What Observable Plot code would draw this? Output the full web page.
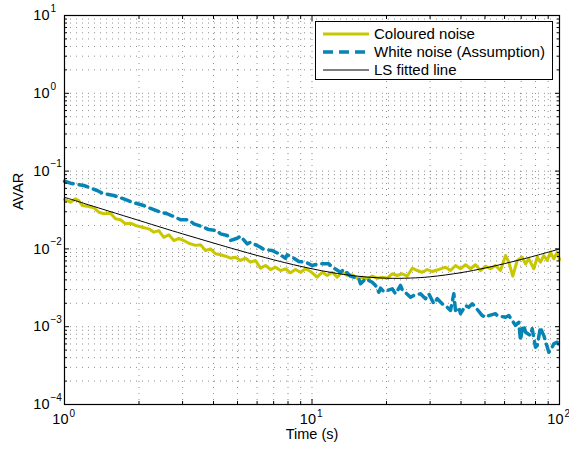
<!DOCTYPE html>
<html><head><meta charset="utf-8">
<script src="https://cdn.jsdelivr.net/npm/d3@7"></script>
<script src="https://cdn.jsdelivr.net/npm/@observablehq/plot@0.6"></script>
<style>body{margin:0;background:#fff;} #chart{width:569px;height:454px;}</style>
</head><body><div id="chart"></div>
<script>
const colouredT = [1, 1.057, 1.108, 1.142, 1.179, 1.254, 1.313, 1.376, 1.442, 1.534, 1.607, 1.684, 1.764, 1.848, 1.936, 2.061, 2.191, 2.296, 2.404, 2.519, 2.639, 2.764, 2.896, 3.034, 3.178, 3.382, 3.544, 3.713, 3.890, 4.075, 4.269, 4.472, 4.685, 4.909, 5.142, 5.387, 5.644, 5.912, 6.194, 6.489, 6.798, 7.121, 7.461, 7.816, 8.188, 8.577, 8.985, 9.413, 9.861, 10.49, 10.99, 11.52, 12.06, 12.64, 13.24, 13.88, 14.54, 15.23, 15.95, 16.71, 17.51, 18.34, 19.21, 20.13, 21.09, 22.09, 23.14, 24.24, 25.40, 26.61, 27.88, 29.20, 30.59, 32.53, 34.63, 36.28, 38.00, 39.81, 41.71, 43.70, 45.78, 47.96, 50.23, 52.63, 55.13, 57.76, 60.51, 62.40, 64.76, 67.46, 70.67, 72.87, 75.16, 78.74, 81.27, 83.80, 86.42, 89.19, 91.95, 94.84, 97.88, 100];
const colouredV = [0.0432, 0.0398, 0.0441, 0.0419, 0.0361, 0.0351, 0.0338, 0.0296, 0.0283, 0.0288, 0.0244, 0.0237, 0.0210, 0.0214, 0.0200, 0.0190, 0.0181, 0.0164, 0.0172, 0.0141, 0.0152, 0.0128, 0.0137, 0.0128, 0.0118, 0.0111, 0.0113, 0.00953, 0.0100, 0.00865, 0.00840, 0.00805, 0.00759, 0.00782, 0.00710, 0.00759, 0.00675, 0.00710, 0.00565, 0.00612, 0.00543, 0.00582, 0.00527, 0.00555, 0.00493, 0.00543, 0.00501, 0.00555, 0.00513, 0.00433, 0.00501, 0.00455, 0.00501, 0.00433, 0.00501, 0.00455, 0.00465, 0.00420, 0.00433, 0.00413, 0.00446, 0.00420, 0.00433, 0.00420, 0.00479, 0.00455, 0.00479, 0.00446, 0.00565, 0.00527, 0.00501, 0.00543, 0.00513, 0.00543, 0.00582, 0.00527, 0.00612, 0.00555, 0.00625, 0.00555, 0.00625, 0.00527, 0.00600, 0.00555, 0.00612, 0.00527, 0.00822, 0.00675, 0.00446, 0.00710, 0.00782, 0.00643, 0.00746, 0.00555, 0.00782, 0.00675, 0.00822, 0.00710, 0.00908, 0.00746, 0.00908, 0.00731];

const whiteT = [1, 1.057, 1.197, 1.356, 1.420, 1.582, 1.684, 1.877, 2.091, 2.191, 2.443, 2.600, 2.809, 2.943, 3.178, 3.330, 3.654, 3.828, 4.140, 4.269, 4.544, 4.685, 4.986, 5.142, 5.472, 5.644, 6.194, 6.389, 6.905, 7.342, 7.816, 7.941, 8.444, 8.845, 9.413, 10.02, 10.65, 11.69, 12.06, 13.04, 13.44, 14.31, 14.75, 15.46, 15.70, 16.45, 17.51, 18.06, 18.62, 18.92, 19.50, 21.09, 21.75, 22.78, 23.14, 25.00, 25.78, 27.44, 28.75, 29.65, 31.06, 32.06, 33.58, 35.18, 36.28, 37.41, 38.00, 39.19, 39.81, 41.71, 43.00, 44.41, 45.78, 48.72, 50.23, 51.80, 55.13, 56.01, 60.51, 62.40, 66.41, 68.48, 69.57, 70.67, 71.74, 72.87, 76.35, 77.57, 79.98, 81.27, 83.80, 85.13, 86.42, 90.53, 91.95, 94.84, 97.88, 100];
const whiteV = [0.0741, 0.0699, 0.0653, 0.0563, 0.0520, 0.0486, 0.0454, 0.0398, 0.0361, 0.0338, 0.0296, 0.0283, 0.0255, 0.0237, 0.0237, 0.0210, 0.0190, 0.0177, 0.0172, 0.0156, 0.0149, 0.0128, 0.0137, 0.0146, 0.0116, 0.0122, 0.0105, 0.00982, 0.00953, 0.00865, 0.00759, 0.00840, 0.00759, 0.00689, 0.00675, 0.00612, 0.00643, 0.00643, 0.00582, 0.00501, 0.00543, 0.00446, 0.00433, 0.00413, 0.00356, 0.00413, 0.00373, 0.00339, 0.00277, 0.00313, 0.00283, 0.00307, 0.00265, 0.00339, 0.00301, 0.00239, 0.00252, 0.00265, 0.00229, 0.00265, 0.00197, 0.00229, 0.00197, 0.00178, 0.00162, 0.00265, 0.00162, 0.00178, 0.00147, 0.00187, 0.00178, 0.00197, 0.00178, 0.00139, 0.00132, 0.00139, 0.00147, 0.00139, 0.00132, 0.00139, 0.00104, 0.00114, 0.000665, 0.000940, 0.00104, 0.000850, 0.000771, 0.000940, 0.000545, 0.000573, 0.000986, 0.000850, 0.000771, 0.000470, 0.000494, 0.000603, 0.000632, 0.000573];

const fitT = [1, 1.25, 1.5, 2, 2.5, 3, 4, 5, 6, 7, 8, 10, 12, 15, 20, 25, 30, 40, 50, 60, 70, 80, 100];
const fitV = [0.0461, 0.0369, 0.0308, 0.0232, 0.0186, 0.0156, 0.0119, 0.00968, 0.00824, 0.00724, 0.00651, 0.00555, 0.00497, 0.00449, 0.00420, 0.00422, 0.00438, 0.00495, 0.00567, 0.00647, 0.00731, 0.00818, 0.00996];

const xMajor = [1, 10, 100];
const xMajorExp = ["0", "1", "2"];
const yMajor = [1e-4, 1e-3, 1e-2, 1e-1, 1, 10];
const yMajorExp = ["\u22124", "\u22123", "\u22122", "\u22121", "0", "1"];
const minorMultipliers = [2, 3, 4, 5, 6, 7, 8, 9];
const xMinor = xMajor.slice(0, -1).flatMap(d => minorMultipliers.map(m => m * d));
const yMinor = yMajor.slice(0, -1).flatMap(d => minorMultipliers.map(m => m * d));

const legendLabels = ["Coloured noise", "White noise (Assumption)", "LS fitted line"];
const seriesColors = ["#c9c800", "#0685b5", "#000000"];
const xLabel = "Time (s)";
const yLabel = "AVAR";

const coloured = colouredT.map((t, i) => ({t, v: colouredV[i]}));
const white = whiteT.map((t, i) => ({t, v: whiteV[i]}));
const fit = fitT.map((t, i) => ({t, v: fitV[i]}));

const font = "'Liberation Sans', Arial, Helvetica, sans-serif";
const gridStyle = {stroke: "#222", strokeOpacity: 0.5, strokeDasharray: "1,5"};
const tickStyle = {stroke: "black", fill: "none", label: null, strokeWidth: 1};

const chart = Plot.plot({
  width: 569, height: 454,
  marginLeft: 64, marginRight: 10, marginTop: 15, marginBottom: 50,
  style: {fontFamily: font, fontSize: "14px", background: "white", color: "black"},
  x: {type: "log", domain: [1, 100], axis: null},
  y: {type: "log", domain: [1e-4, 10], axis: null},
  marks: [
    Plot.ruleX([...xMinor, 10], {x: d => d, ...gridStyle}),
    Plot.ruleY([...yMinor, 1e-3, 1e-2, 1e-1, 1], {y: d => d, ...gridStyle}),
    Plot.line(coloured, {x: "t", y: "v", stroke: seriesColors[0], strokeWidth: 3}),
    Plot.line(white, {x: "t", y: "v", stroke: seriesColors[1], strokeWidth: 3.5, strokeDasharray: "9,6"}),
    Plot.line(fit, {x: "t", y: "v", stroke: seriesColors[2], strokeWidth: 1, curve: "catmull-rom"}),
    Plot.axisX({anchor: "bottom", ticks: xMajor, tickSize: -5, ...tickStyle}),
    Plot.axisX({anchor: "top", ticks: xMajor, tickSize: -5, ...tickStyle}),
    Plot.axisX({anchor: "bottom", ticks: xMinor, tickSize: -3, ...tickStyle}),
    Plot.axisX({anchor: "top", ticks: xMinor, tickSize: -3, ...tickStyle}),
    Plot.axisY({anchor: "left", ticks: yMajor, tickSize: -5, ...tickStyle}),
    Plot.axisY({anchor: "right", ticks: yMajor, tickSize: -5, ...tickStyle}),
    Plot.axisY({anchor: "left", ticks: yMinor, tickSize: -3, ...tickStyle}),
    Plot.axisY({anchor: "right", ticks: yMinor, tickSize: -3, ...tickStyle}),
    Plot.frame({stroke: "black", strokeWidth: 1.2}),
    Plot.text(yMajor, {y: d => d, frameAnchor: "left", dx: -15, textAnchor: "end", text: () => "10", fontSize: 14.5}),
    Plot.text(yMajor, {y: d => d, frameAnchor: "left", dx: -14, dy: -7, textAnchor: "start", text: (d, i) => yMajorExp[i], fontSize: 10}),
    Plot.text(xMajor, {x: d => d, frameAnchor: "bottom", dx: 4, dy: 19, textAnchor: "end", text: () => "10", fontSize: 14.5}),
    Plot.text(xMajor, {x: d => d, frameAnchor: "bottom", dx: 5, dy: 12, textAnchor: "start", text: (d, i) => xMajorExp[i], fontSize: 10}),
    Plot.text([xLabel], {frameAnchor: "bottom", dy: 34, text: d => d, fontSize: 14.5}),
    Plot.text([yLabel], {frameAnchor: "left", dx: -46, rotate: -90, text: d => d, fontSize: 14.5})
  ]
});
document.getElementById("chart").appendChild(chart);

// Legend inside the plot box (top-right)
const lg = d3.select(chart).append("g").attr("font-family", font).attr("font-size", 15)
  .attr("text-anchor", "start");
lg.append("rect").attr("x", 315.5).attr("y", 21.5).attr("width", 237).attr("height", 58)
  .attr("fill", "white").attr("stroke", "black").attr("stroke-width", 1);
const dashes = [null, "10,6", null];
const widths = [3, 3.5, 1];
legendLabels.forEach((lab, i) => {
  const cy = 34 + i * 18;
  lg.append("line").attr("x1", 323).attr("x2", 369).attr("y1", cy).attr("y2", cy)
    .attr("stroke", seriesColors[i]).attr("stroke-width", widths[i])
    .attr("stroke-dasharray", dashes[i]);
  lg.append("text").attr("x", 374).attr("y", cy).attr("dy", "0.35em")
    .attr("text-anchor", "start").attr("fill", "black").text(lab);
});
</script></body></html>
